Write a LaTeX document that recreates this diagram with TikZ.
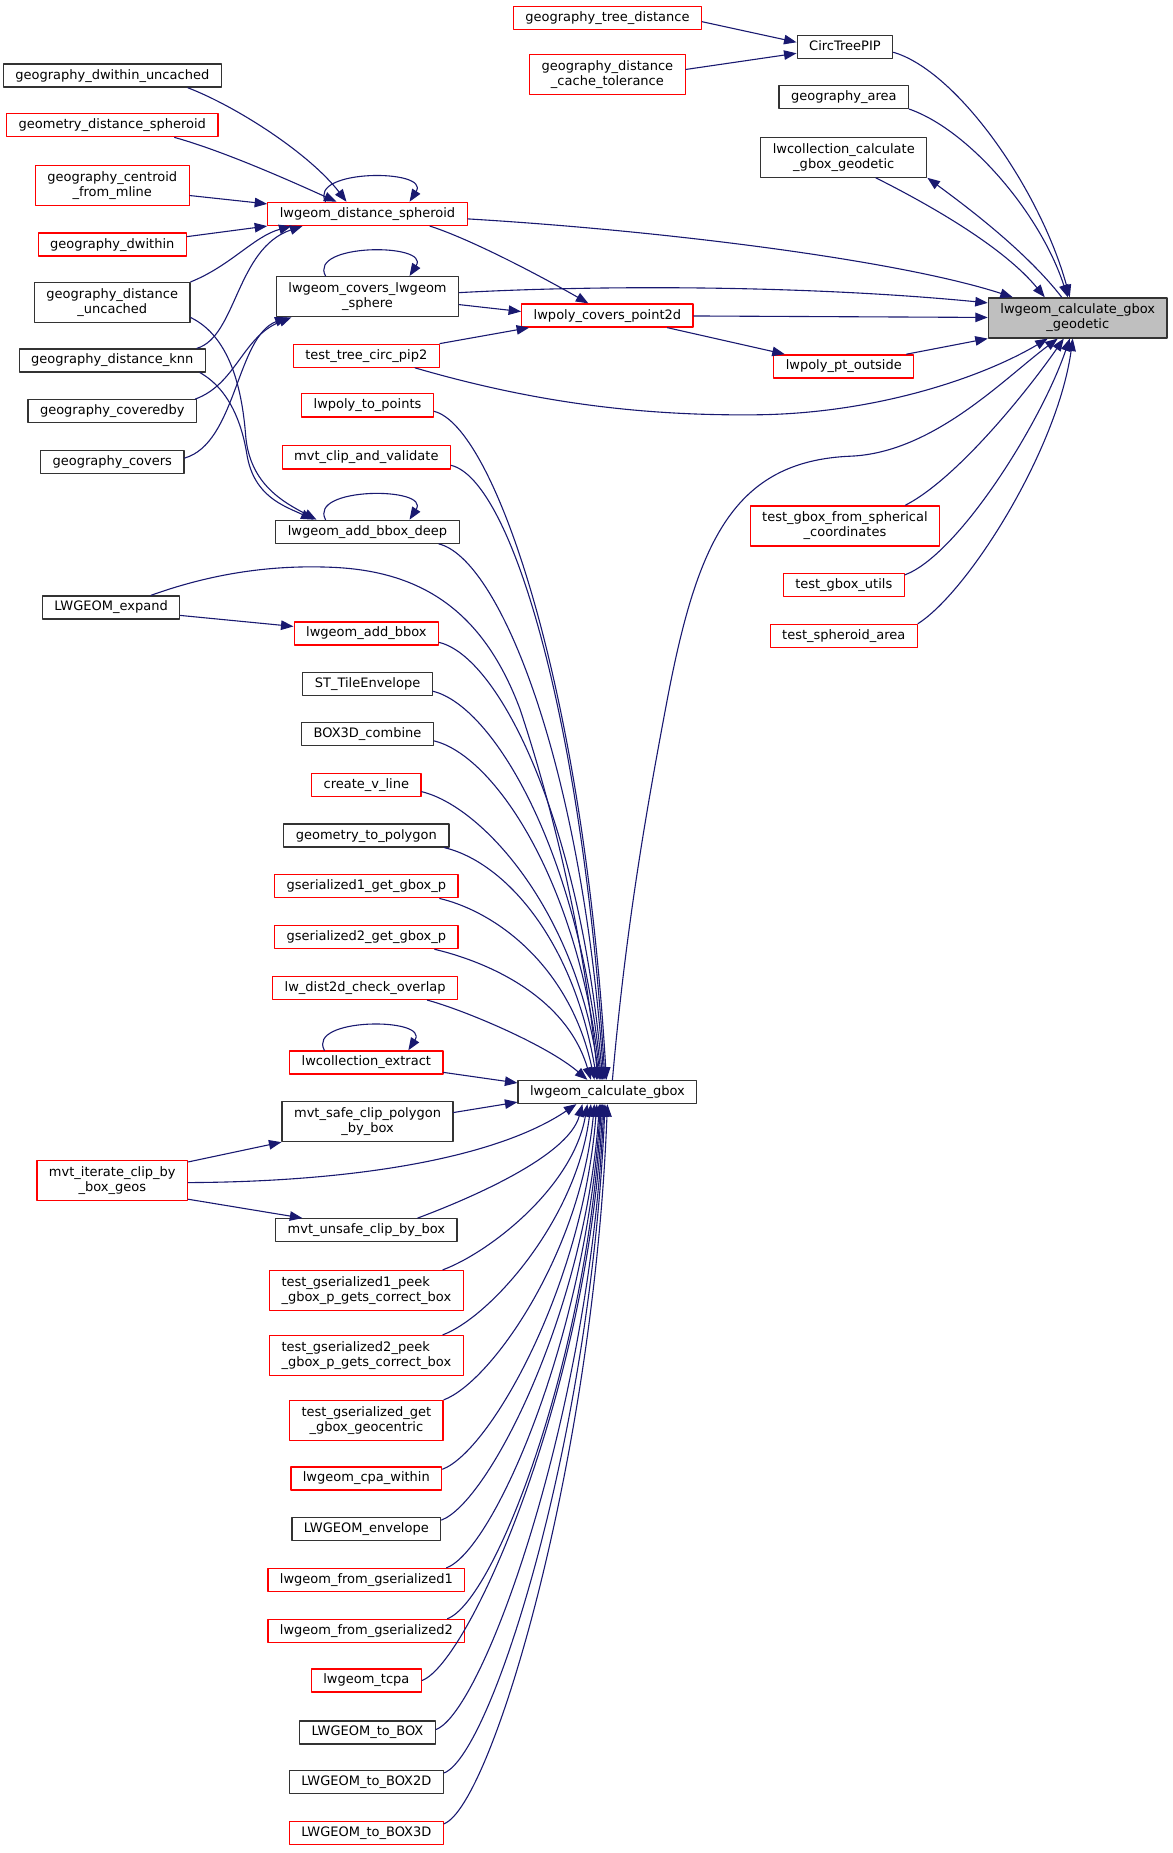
\documentclass[tikz,border=0pt]{standalone}
\usepackage{fontspec}
\setmainfont{DejaVu Sans}
\usetikzlibrary{arrows.meta}
\definecolor{qqqqtt}{rgb}{0.1,0.1,0.44}
\definecolor{ffqqqq}{rgb}{1,0,0}
\definecolor{uuuuuu}{rgb}{0.2,0.2,0.2}
\definecolor{bfbfbf}{rgb}{0.75,0.75,0.75}

\begin{document}
\begin{tikzpicture}[x=1.1815pt,y=-1.1815pt,line cap=round,line join=round,
	>={Triangle[length=12.5pt,width=9.5pt]},
	box/.style={draw=uuuuuu,fill=white,line width=1.3pt,font=\fontsize{13}{15}\selectfont,inner xsep=12pt,inner ysep=0pt},
	one/.style={box,minimum height=23pt,text height=10pt,text depth=3pt},
	two/.style={box,align=center,minimum height=40pt},
	hot/.style={draw=ffqqqq},
	root/.style={fill=bfbfbf},
	call/.style={->,draw=qqqqtt,line width=1.1pt}]
	\useasboundingbox (0,0) rectangle (992,1568);
	% right part
	\node[one,hot] (gtd) at (514,15) {geography\_tree\_distance};
	\node[two,hot] (gdct) at (514,63) {geography\_distance\\\_cache\_tolerance};
	\node[one] (ctp) at (715,40) {CircTreePIP};
	\node[one] (garea) at (714,82) {geography\_area};
	\node[two] (lccg) at (714,133) {lwcollection\_calculate\\\_gbox\_geodetic};
	\node[two,root] (geod) at (912,269) {lwgeom\_calculate\_gbox\\\_geodetic};
	\node[one,hot] (ppo) at (714,310) {lwpoly\_pt\_outside};
	\node[two,hot] (tgfs) at (715,445) {test\_gbox\_from\_spherical\\\_coordinates};
	\node[one,hot] (tgu) at (714,495) {test\_gbox\_utils};
	\node[one,hot] (tsa) at (714,538) {test\_spheroid\_area};
	\node[one,hot] (pcp) at (514,267) {lwpoly\_covers\_point2d};
	\node[one] (gbox) at (514,924) {lwgeom\_calculate\_gbox};
	% middle column
	\node[one,hot] (dsph) at (311,181) {lwgeom\_distance\_spheroid};
	\node[two] (csph) at (311,251) {lwgeom\_covers\_lwgeom\\\_sphere};
	\node[one,hot] (tcp) at (310,301) {test\_tree\_circ\_pip2};
	\node[one,hot] (ptp) at (311,343) {lwpoly\_to\_points};
	\node[one,hot] (mcv) at (310,387) {mvt\_clip\_and\_validate};
	\node[one] (abd) at (311,450) {lwgeom\_add\_bbox\_deep};
	\node[one,hot] (abb) at (310,536) {lwgeom\_add\_bbox};
	\node[one] (tile) at (311,579) {ST\_TileEnvelope};
	\node[one] (b3c) at (311,621) {BOX3D\_combine};
	\node[one,hot] (cvl) at (310,664) {create\_v\_line};
	\node[one] (gtp) at (310,707) {geometry\_to\_polygon};
	\node[one,hot] (gs1) at (310,750) {gserialized1\_get\_gbox\_p};
	\node[one,hot] (gs2) at (310,793) {gserialized2\_get\_gbox\_p};
	\node[one,hot] (dco) at (309,836) {lw\_dist2d\_check\_overlap};
	\node[one,hot] (lce) at (310,899) {lwcollection\_extract};
	\node[two] (msc) at (311,949) {mvt\_safe\_clip\_polygon\\\_by\_box};
	\node[one] (muc) at (310,1041) {mvt\_unsafe\_clip\_by\_box};
	\node[two,hot,align=left] (tp1) at (310,1092) {test\_gserialized1\_peek\\\_gbox\_p\_gets\_correct\_box};
	\node[two,hot,align=left] (tp2) at (310,1147) {test\_gserialized2\_peek\\\_gbox\_p\_gets\_correct\_box};
	\node[two,hot] (tgg) at (310,1202) {test\_gserialized\_get\\\_gbox\_geocentric};
	\node[one,hot] (cpa) at (310,1251) {lwgeom\_cpa\_within};
	\node[one] (env) at (310,1294) {LWGEOM\_envelope};
	\node[one,hot] (fg1) at (310,1337) {lwgeom\_from\_gserialized1};
	\node[one,hot] (fg2) at (310,1380) {lwgeom\_from\_gserialized2};
	\node[one,hot] (tcpa) at (310,1422) {lwgeom\_tcpa};
	\node[one] (tbox) at (311,1466) {LWGEOM\_to\_BOX};
	\node[one] (tb2) at (310,1508) {LWGEOM\_to\_BOX2D};
	\node[one,hot] (tb3) at (310,1551) {LWGEOM\_to\_BOX3D};
	% left column
	\node[one] (gdu) at (95,64) {geography\_dwithin\_uncached};
	\node[one,hot] (gds) at (95,106) {geometry\_distance\_spheroid};
	\node[two,hot] (gcm) at (95,157) {geography\_centroid\\\_from\_mline};
	\node[one,hot] (gdw) at (95,207) {geography\_dwithin};
	\node[two] (gdun) at (95,256) {geography\_distance\\\_uncached};
	\node[one] (gdk) at (95,305) {geography\_distance\_knn};
	\node[one] (gcb) at (95,348) {geography\_coveredby};
	\node[one] (gcv) at (95,391) {geography\_covers};
	\node[one] (lexp) at (94,514) {LWGEOM\_expand};
	\node[two,hot] (mic) at (95,999) {mvt\_iterate\_clip\_by\\\_box\_geos};
	% calls into the geodetic box
	\draw[call] ([yshift=-4pt]gtd.east) -- ([yshift=5pt]ctp.west);
	\draw[call] ([yshift=5pt]gdct.east) -- ([yshift=-6pt]ctp.west);
	\draw[call] ([yshift=-5pt]ctp.east) .. controls (810,60) and (880,160) .. ([xshift=-8pt]geod.north);
	\draw[call] (garea.south east) .. controls (820,110) and (880,180) .. ([xshift=-10pt]geod.north);
	\draw[call] ([xshift=32pt]lccg.south) .. controls (790,175) and (850,210) .. ([xshift=-33pt]geod.north);
	\draw[call] ([xshift=-16pt]geod.north) .. controls (870,215) and (825,180) .. (lccg.south east);
	\draw[call] ([yshift=-5pt]dsph.east) .. controls (560,195) and (760,220) .. ([xshift=-65pt]geod.north);
	\draw[call] ([xshift=-38pt]dsph.south east) .. controls (400,203) and (460,235) .. ([xshift=-19pt]pcp.north);
	\draw[call] ([yshift=4pt]csph.east) .. controls (530,240) and (700,243) .. ([yshift=15pt]geod.west);
	\draw[call] ([yshift=-8pt]csph.east) -- ([yshift=4pt]pcp.west);
	\draw[call] (pcp) -- (geod);
	\draw[call] ([xshift=60pt]pcp.south) -- ([xshift=-59pt]ppo.north);
	\draw[call] ([xshift=-8pt]ppo.north east) -- (geod.south west);
	\draw[call] (tcp.north east) -- ([xshift=8pt]pcp.south west);
	\draw[call] ([xshift=-25pt]tcp.south east) .. controls (450,340) and (540,352) .. (640,351)
		.. controls (740,350) and (830,320) .. ([xshift=-30pt]geod.south);
	\draw[call] ([xshift=5pt]gbox.north) .. controls (530,780) and (548,680) .. (565,590)
		.. controls (590,460) and (620,390) .. (720,386) .. controls (790,383) and (850,320) .. ([xshift=-20pt]geod.south);
	\draw[call] ([xshift=-35pt]tgfs.north east) .. controls (810,405) and (870,330) .. ([xshift=-14pt]geod.south);
	\draw[call] ([yshift=-2pt]tgu.north east) .. controls (810,470) and (880,360) .. ([xshift=-8pt]geod.south);
	\draw[call] (tsa.north east) .. controls (820,500) and (895,380) .. ([xshift=-5pt]geod.south);
	% left side
	\draw[call] ([xshift=-34pt]gdu.south east) .. controls (200,90) and (262,130) .. ([xshift=-21pt]dsph.north);
	\draw[call] ([xshift=-44pt]gds.south east) .. controls (190,128) and (250,155) .. ([xshift=-31pt]dsph.north);
	\draw[call] ([yshift=-10pt]gcm.east) -- ([yshift=10pt]dsph.west);
	\draw[call] ([yshift=8pt]gdw.east) -- (dsph.south west);
	\draw[call] (gdun.north east) .. controls (195,225) and (215,200) .. ([xshift=-76pt]dsph.south);
	\draw[call] ([xshift=-9pt]gdk.north east) .. controls (200,285) and (200,210) .. ([xshift=-65pt]dsph.south);
	\draw[call] ([xshift=-2pt]gcb.north east) .. controls (200,325) and (205,285) .. ([xshift=-76pt]csph.south);
	\draw[call] ([yshift=4pt]gcv.east) .. controls (200,375) and (200,285) .. ([xshift=-80pt]csph.south);
	\draw[call] ([yshift=-15pt]gdun.east) .. controls (195,285) and (205,330) .. (208,370)
		.. controls (212,410) and (240,425) .. ([xshift=-51pt]abd.north);
	\draw[call] ([xshift=-6pt]gdk.south east) .. controls (195,330) and (205,360) .. (209,385)
		.. controls (215,420) and (240,428) .. ([xshift=-54pt]abd.north);
	\foreach \n in {dsph,csph,abd,lce}
		\draw[call] ([xshift=-42pt]\n.north) .. controls +(-15,-28) and +(18,-28) .. ([xshift=42pt]\n.north);
	% calls into lwgeom_calculate_gbox
	\draw[call] ([yshift=-8pt]lexp.east) -- ([yshift=7pt]abb.west);
	\draw[call] ([xshift=40pt]lexp.north) .. controls (180,485) and (230,478) .. (280,480)
		.. controls (360,483) and (410,520) .. (440,600) .. controls (470,690) and (495,800) .. ([xshift=-9.5pt]gbox.north);
	\foreach \n/\a/\sx/\sy/\dx/\cy in {ptp/east/0/-6/-1/-338, mcv/east/0/-8/-2.4/-312,
		abd/south east/-21/0/-3.5/-274, abb/east/0/-9/-4.7/-223, tile/east/0/-7/-6/-197,
		b3c/east/0/-7/-7/-171, cvl/east/0/-7/-8/-145, gtp/south east/-5/0/-10.6/-120,
		gs1/south east/-19/0/-13/-94, gs2/south east/-24/0/-16.5/-68}
		\draw[call] ([xshift=\sx pt,yshift=\sy pt]\n.\a) .. controls +(50,12) and +(-20,\cy) .. ([xshift=\dx pt]gbox.north);
	\draw[call] ([xshift=-31pt]dco.south east) .. controls +(30,8) and +(-35,-30) .. ([xshift=-20pt]gbox.north);
	\draw[call] ([yshift=-10pt]lce.east) -- ([yshift=9pt]gbox.west);
	\draw[call] ([yshift=9pt]msc.east) -- ([yshift=2pt]gbox.south west);
	\draw[call] ([yshift=-2pt]mic.north east) -- (msc.south west);
	\draw[call] ([yshift=-2pt]mic.east) .. controls (300,1000) and (420,980) .. ([xshift=-31pt]gbox.south);
	\draw[call] ([yshift=2pt]mic.south east) -- ([xshift=-64pt]muc.north);
	\foreach \n/\a/\sx/\sy/\dx/\cy in {muc/north east/-40/0/-25/45, tp1/north east/-21/0/-20/70,
		tp2/north east/-21/0/-16.5/98, tgg/north east/0/0/-13/127, cpa/north east/0/-3/-10.6/155,
		env/north east/0/-3/-8/176, fg1/north east/-19/0/-7/197, fg2/north east/-18/0/-6/217,
		tcpa/east/0/0/-4.7/243, tbox/east/0/3/-3.5/263, tb2/north east/0/-3/-2.4/283,
		tb3/north east/0/-3/0/304}
		\draw[call] ([xshift=\sx pt,yshift=\sy pt]\n.\a) .. controls +(40,-15) and +(-12,\cy) .. ([xshift=\dx pt]gbox.south);
\end{tikzpicture}
\end{document}
